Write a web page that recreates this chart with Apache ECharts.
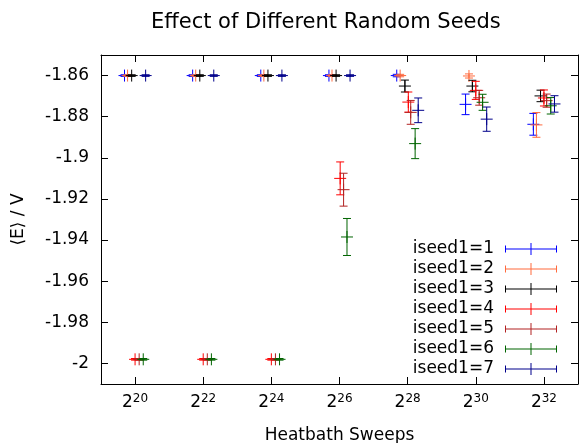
<!DOCTYPE html>
<html><head><meta charset="utf-8">
<script src="https://cdn.jsdelivr.net/npm/echarts@6/dist/echarts.min.js"></script>
<style>html,body{margin:0;padding:0;background:#fff}#c{width:579px;height:443px}</style>
</head><body><div id="c"></div>
<script>
// ---- data (x = log2 of heatbath sweeps, y = <E>/V, err = half error bar) ----
const seedNames = ['iseed1=1','iseed1=2','iseed1=3','iseed1=4','iseed1=5','iseed1=6','iseed1=7'];
const seedColors = ['#0000ff','#ff6a3d','#000000','#ff0000','#b22222','#006400','#00008b'];

const x1 = [19.69, 21.69, 23.69, 25.69, 27.68, 29.70, 31.69];
const y1 = [-1.86, -1.86, -1.86, -1.86, -1.86, -1.874, -1.8837];
const e1 = [0.0004, 0.0004, 0.0004, 0.0004, 0.0006, 0.005, 0.0053];

const x2 = [19.78, 21.78, 23.78, 25.78, 27.78, 29.80, 31.78];
const y2 = [-1.86, -1.86, -1.86, -1.86, -1.86, -1.8602, -1.884];
const e2 = [0.0004, 0.0004, 0.0004, 0.0004, 0.0006, 0.001, 0.006];

const x3 = [19.90, 21.90, 23.90, 25.90, 27.92, 29.90, 31.90];
const y3 = [-1.86, -1.86, -1.86, -1.86, -1.8651, -1.8651, -1.8699];
const e3 = [0.0004, 0.0004, 0.0004, 0.0004, 0.0029, 0.0028, 0.0028];

const x4 = [20.00, 22.00, 24.00, 26.02, 28.02, 30.00, 32.00];
const y4 = [-1.998, -1.998, -1.998, -1.910, -1.8729, -1.8672, -1.8709];
const e4 = [0.0004, 0.0004, 0.0004, 0.008, 0.0049, 0.0044, 0.0039];

const x5 = [20.12, 22.12, 24.12, 26.12, 28.09, 30.10, 32.08];
const y5 = [-1.998, -1.998, -1.998, -1.9155, -1.8779, -1.8708, -1.8722];
const e5 = [0.0004, 0.0004, 0.0004, 0.008, 0.0058, 0.0036, 0.0032];

const x6 = [20.24, 22.24, 24.24, 26.22, 28.22, 30.20, 32.20];
const y6 = [-1.998, -1.998, -1.998, -1.9385, -1.8931, -1.873, -1.8747];
const e6 = [0.0004, 0.0004, 0.0004, 0.009, 0.0073, 0.0039, 0.004];

const x7 = [20.31, 22.31, 24.31, 26.31, 28.31, 30.32, 32.31];
const y7 = [-1.86, -1.86, -1.86, -1.86, -1.8769, -1.8812, -1.8738];
const e7 = [0.0004, 0.0004, 0.0004, 0.0004, 0.006, 0.0059, 0.004];

const xTicks = [20, 22, 24, 26, 28, 30, 32];
const yTicks = [-2, -1.98, -1.96, -1.94, -1.92, -1.9, -1.88, -1.86];

const seedX = [x1, x2, x3, x4, x5, x6, x7];
const seedY = [y1, y2, y3, y4, y5, y6, y7];
const seedE = [e1, e2, e3, e4, e5, e6, e7];

const FONT = 'DejaVu Sans';

function renderItem(params, api) {
  const x = api.value(0), y = api.value(1), e = api.value(2);
  const c = api.coord([x, y]);
  const t = api.coord([x, y + e]);
  const b = api.coord([x, y - e]);
  const style = { stroke: api.visual('color'), lineWidth: 1 };
  const cap = 4, arm = 6;
  return { type: 'group', children: [
    { type: 'line', shape: { x1: c[0], y1: t[1], x2: c[0], y2: b[1] }, style },
    { type: 'line', shape: { x1: c[0] - cap, y1: t[1], x2: c[0] + cap, y2: t[1] }, style },
    { type: 'line', shape: { x1: c[0] - cap, y1: b[1], x2: c[0] + cap, y2: b[1] }, style },
    { type: 'line', shape: { x1: c[0] - arm, y1: c[1], x2: c[0] + arm, y2: c[1] }, style },
    { type: 'line', shape: { x1: c[0], y1: c[1] - arm, x2: c[0], y2: c[1] + arm }, style }
  ]};
}

const series = seedNames.map((name, i) => ({
  type: 'custom',
  name: name,
  itemStyle: { color: seedColors[i] },
  renderItem: renderItem,
  encode: { x: 0, y: 1 },
  data: seedX[i].map((x, j) => [x, seedY[i][j], seedE[i][j]])
}));

const axisLine = { show: true, onZero: false, lineStyle: { color: '#000', width: 1 } };
const tickStyle = { color: '#000', width: 1 };

const option = {
  animation: false,
  backgroundColor: '#fff',
  title: {
    text: 'Effect of Different Random Seeds',
    left: 146, top: 7,
    textStyle: { fontFamily: FONT, fontSize: 21, fontWeight: 'normal', color: '#000' }
  },
  grid: { left: 101, right: 1, top: 55, bottom: 59, containLabel: false, outerBoundsMode: 'none' },
  legend: {
    orient: 'vertical', right: 22, top: 239, align: 'right', padding: 0,
    itemGap: 0, itemWidth: 52, itemHeight: 12,
    icon: 'path://M0 5.5H52V6.5H0Z M0 2.5H1V9.5H0Z M51 2.5H52V9.5H51Z M25.5 0H26.5V12H25.5Z',
    itemStyle: { borderWidth: 0 },
    textStyle: { fontFamily: FONT, fontSize: 17, color: '#000', lineHeight: 20, padding: [0, 6, 0, 0] },
    data: seedNames
  },
  xAxis: [{
    type: 'value', min: 19, max: 33, position: 'bottom',
    axisLine: axisLine,
    axisTick: { show: true, inside: true, length: 7, customValues: xTicks, lineStyle: tickStyle },
    axisLabel: {
      customValues: xTicks, margin: 9, color: '#000',
      formatter: v => '{b|2}{s|' + v + '}',
      rich: {
        b: { fontFamily: FONT, fontSize: 17, color: '#000', lineHeight: 20 },
        s: { fontFamily: FONT, fontSize: 12, color: '#000', verticalAlign: 'top', lineHeight: 14 }
      }
    },
    splitLine: { show: false },
    name: 'Heatbath Sweeps', nameLocation: 'middle', nameGap: 43,
    nameTextStyle: { fontFamily: FONT, fontSize: 17, color: '#000' }
  }, {
    type: 'value', min: 19, max: 33, position: 'top',
    axisLine: axisLine,
    axisTick: { show: true, inside: true, length: 7, customValues: xTicks, lineStyle: tickStyle },
    axisLabel: { show: false },
    splitLine: { show: false }
  }],
  yAxis: [{
    type: 'value', min: -2.01, max: -1.85, position: 'left',
    axisLine: axisLine,
    axisTick: { show: true, inside: true, length: 7, customValues: yTicks, lineStyle: tickStyle },
    axisLabel: {
      customValues: yTicks, margin: 12, color: '#000', fontFamily: FONT, fontSize: 17,
      formatter: v => String(v)
    },
    splitLine: { show: false },
    name: '⟨E⟩ / V', nameLocation: 'middle', nameGap: 74,
    nameTextStyle: { fontFamily: FONT, fontSize: 17, color: '#000' }
  }, {
    type: 'value', min: -2.01, max: -1.85, position: 'right',
    axisLine: axisLine,
    axisTick: { show: true, inside: true, length: 7, customValues: yTicks, lineStyle: tickStyle },
    axisLabel: { show: false },
    splitLine: { show: false }
  }],
  series: series
};

const chart = echarts.init(document.getElementById('c'), null, { renderer: 'canvas' });
chart.setOption(option);
</script>
</body></html>
